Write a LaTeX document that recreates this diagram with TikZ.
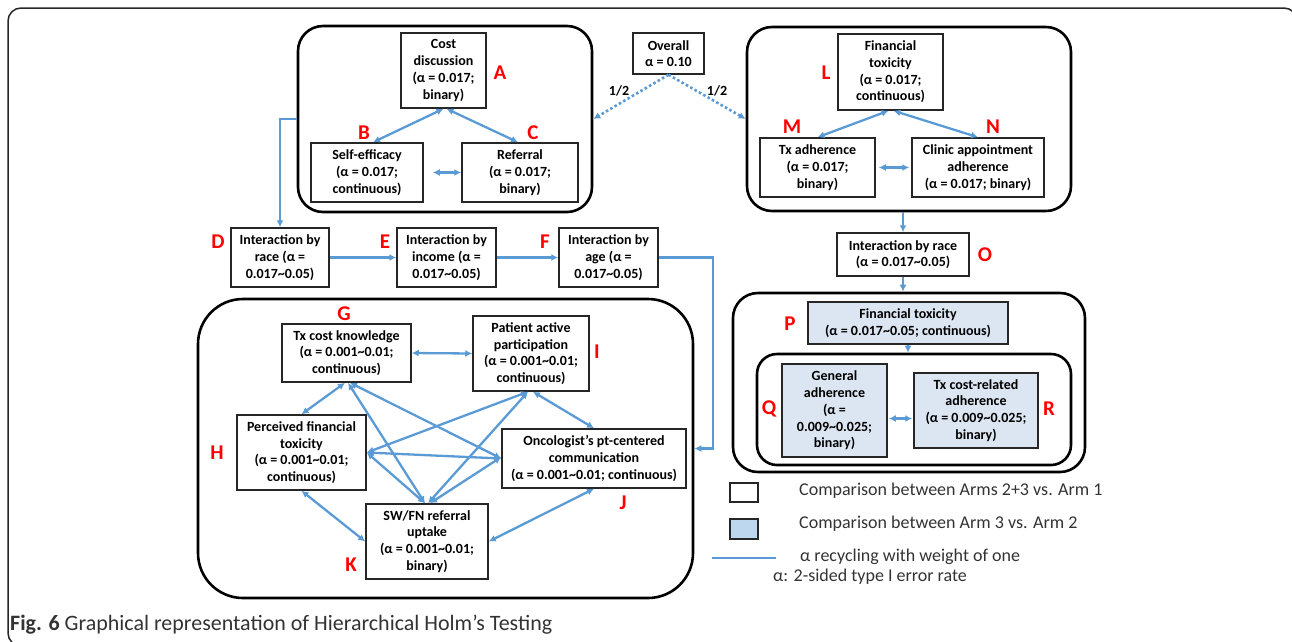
\documentclass[tikz,border=0pt]{standalone}
\usepackage{fontspec}
\setmainfont{Carlito}
\usetikzlibrary{arrows.meta,calc}
\definecolor{arrblue}{HTML}{5B9BD5}
\definecolor{boxblue}{HTML}{DCE6F2}
\definecolor{legblue}{HTML}{BDD7EE}
\definecolor{lblred}{HTML}{FF0000}
\definecolor{captxt}{HTML}{333333}
\newcommand{\tl}{\textasciitilde}
\begin{document}
\begin{tikzpicture}[x=1pt,y=-1pt,
  box/.style={draw=black!85, line width=1.5pt, fill=white, align=center, inner sep=1pt,
    font=\bfseries\fontsize{14}{16.7}\selectfont},
  bbox/.style={box, fill=boxblue},
  grp/.style={draw=black, line width=2.6pt, inner sep=0pt, rounded corners=#1},
  grp/.default=25pt,
  lbl/.style={text=lblred, font=\bfseries\fontsize{21}{24}\selectfont, inner sep=0pt},
  arr/.style={draw=arrblue, line width=2.3pt, {Latex[length=7pt,width=7pt]}-{Latex[length=7pt,width=7pt]}},
  sarr/.style={draw=arrblue, line width=2.3pt, -{Latex[length=7pt,width=7pt]}},
  darr/.style={draw=arrblue, line width=2.6pt, dash pattern=on 2.6pt off 2.4pt, -{Latex[length=7pt,width=7pt]}},
  legtxt/.style={anchor=west, inner sep=0pt, text=captxt, font=\fontsize{18}{21}\selectfont},
  wt/.style={font=\bfseries\fontsize{14}{16.7}\selectfont, inner sep=0pt}
]
\clip (0,0) rectangle (1292,641);
\useasboundingbox (0,0) rectangle (1292,641);
\draw[line width=1.5pt, rounded corners=13pt, draw=black!85] (8,8) rectangle (1297,646);

% groups
\node[grp, minimum width=294pt, minimum height=186pt] (gABC) at (445,119) {};
\node[grp, minimum width=324pt, minimum height=184pt] (gLMN) at (909,119) {};
\node[grp=45pt, minimum width=495pt, minimum height=299pt] (gGK) at (445.5,448.5) {};
\node[grp, minimum width=352pt, minimum height=179pt] (gPQR) at (909,382.5) {};
\node[grp=20pt, minimum width=314pt, minimum height=111pt] (gQR) at (914,409.5) {};

% boxes
\node[box, minimum width=85pt, minimum height=75pt] (A) at (443.5,70.5) {Cost\\discussion\\(α = 0.017;\\binary)};
\node[box, minimum width=112pt, minimum height=59pt] (B) at (367,172.5) {Self-efficacy\\(α = 0.017;\\continuous)};
\node[box, minimum width=116pt, minimum height=59pt] (C) at (520,172.5) {Referral\\(α = 0.017;\\binary)};
\node[box, minimum width=71pt, minimum height=41pt] (Ov) at (668.5,53.5) {Overall\\α = 0.10};
\node[box, minimum width=105pt, minimum height=76pt] (L) at (890.5,72) {Financial\\toxicity\\(α = 0.017;\\continuous)};
\node[box, minimum width=115pt, minimum height=59pt] (M) at (817.5,167.5) {Tx adherence\\(α = 0.017;\\binary)};
\node[box, minimum width=132pt, minimum height=59pt] (N) at (978,167.5) {Clinic appointment\\adherence\\(α = 0.017; binary)};
\node[box, minimum width=132pt, minimum height=43pt] (O) at (903,254.5) {Interaction by race\\(α = 0.017\tl0.05)};
\node[bbox, minimum width=200pt, minimum height=42pt] (P) at (908,323) {Financial toxicity\\(α = 0.017\tl0.05; continuous)};
\node[bbox, minimum width=105pt, minimum height=93pt] (Q) at (834.5,410.5) {General\\adherence\\(α =\\0.009\tl0.025;\\binary)};
\node[bbox, minimum width=124pt, minimum height=75pt] (R) at (976,410.5) {Tx cost-related\\adherence\\(α = 0.009\tl0.025;\\binary)};
\node[box, minimum width=98pt, minimum height=59pt] (D) at (280,257.5) {Interaction by\\race (α =\\0.017\tl0.05)};
\node[box, minimum width=99pt, minimum height=59pt] (E) at (446.5,257.5) {Interaction by\\income (α =\\0.017\tl0.05)};
\node[box, minimum width=99pt, minimum height=59pt] (F) at (608.5,257.5) {Interaction by\\age (α =\\0.017\tl0.05)};
\node[box, minimum width=129pt, minimum height=58pt] (G) at (346.5,353) {Tx cost knowledge\\(α = 0.001\tl0.01;\\continuous)};
\node[box, minimum width=116pt, minimum height=75pt] (I) at (531,353.5) {Patient active\\participation\\(α = 0.001\tl0.01;\\continuous)};
\node[box, minimum width=129pt, minimum height=75pt] (H) at (301.5,452.5) {Perceived financial\\toxicity\\(α = 0.001\tl0.01;\\continuous)};
\node[box, minimum width=184pt, minimum height=59pt] (J) at (594,458.5) {Oncologist’s pt-centered\\communication\\(α = 0.001\tl0.01; continuous)};
\node[box, minimum width=122pt, minimum height=75pt] (K) at (427,541.5) {SW/FN referral\\uptake\\(α = 0.001\tl0.01;\\binary)};

% red labels
\node[lbl] (lA) at (500,73) {A};
\node[lbl] (lB) at (364,133) {B};
\node[lbl] (lC) at (533,133) {C};
\node[lbl] (lL) at (826,73) {L};
\node[lbl] (lM) at (792,127) {M};
\node[lbl] (lN) at (993,127) {N};
\node[lbl] (lO) at (985,255) {O};
\node[lbl] (lP) at (790,324) {P};
\node[lbl] (lQ) at (769,409) {Q};
\node[lbl] (lR) at (1049,409) {R};
\node[lbl] (lD) at (218,242) {D};
\node[lbl] (lE) at (385,242) {E};
\node[lbl] (lF) at (545,242) {F};
\node[lbl] (lG) at (344,314) {G};
\node[lbl] (lH) at (217,453) {H};
\node[lbl] (lI) at (597,352) {I};
\node[lbl] (lJ) at (623,503) {J};
\node[lbl] (lK) at (351,565) {K};

% overall dotted arrows
\draw[darr] (Ov.south) -- (gABC.east);
\draw[darr] (Ov.south) -- (gLMN.west);
\node[wt] (h1) at (619,91) {1/2};
\node[wt] (h2) at (717,91) {1/2};

% ABC arrows
\draw[arr] (A.south) -- ([xshift=6pt]B.north);
\draw[arr] ([xshift=3pt]A.south) -- ([xshift=-2pt]C.north);
\draw[arr, shorten <=9pt] (B.east) -- (C.west);
% LMN arrows
\draw[arr] ([xshift=-2pt]L.south) -- (M.north);
\draw[arr] ([xshift=3pt]L.south) -- (N.north);
\draw[arr, shorten <=3pt, shorten >=2pt] (M.east) -- (N.west);
% chain
\draw[sarr] (gABC.west) -| (D.north);
\draw[sarr] (D.east) -- (E.west);
\draw[sarr] (E.east) -- (F.west);
\coordinate (fj) at (713,448.5);
\draw[sarr] (F.east) -| (fj) -- (gGK.east);
\draw[sarr] (O.north |- gLMN.south) -- (O.north);
\draw[sarr] (O.south) -- (O.south |- gPQR.north);
\draw[sarr] (P.south) -- (P.south |- gQR.north);
\draw[arr, shorten <=1pt, shorten >=1pt] ([yshift=-8pt]Q.east) -- ([yshift=-8pt]R.west);

% GHIJK arrows
\draw[arr] (G.east) -- (I.west);
\draw[arr] ([xshift=-1.5pt]G.south) -- (H.north);
\draw[arr] ([xshift=1.5pt]G.south) -- ([xshift=-2pt]K.north);
\draw[arr] ([xshift=3.5pt]G.south) -- (J.west);
\draw[arr] ([xshift=-3pt]I.south) -- (H.east);
\draw[arr] ([xshift=-3pt]I.south) -- ([xshift=1pt]K.north);
\draw[arr] ([xshift=2pt]I.south) -- (J.north);
\draw[arr] (H.east) -- (J.west);
\draw[arr] (H.east) -- ([xshift=-2pt]K.north);
\draw[arr] ([xshift=3pt]K.north) -- ([yshift=1.5pt]J.west);
\draw[arr] (H.south) -- (K.west);
\draw[arr] (K.east) -- (J.south);

% legend
\node[draw=black!85, line width=1.5pt, fill=white, minimum width=28pt, minimum height=19pt, inner sep=0pt] (lg1) at (744,492.5) {};
\node[draw=black!85, line width=1.5pt, fill=legblue, minimum width=28pt, minimum height=20pt, inner sep=0pt] (lg2) at (744,529) {};
\coordinate (la) at (712,558);
\coordinate (lb) at (776,558);
\draw[draw=arrblue, line width=2.3pt] (la) -- (lb);
\node[legtxt] (t1) at (799,491) {Comparison between Arms 2+3 vs. Arm 1};
\node[legtxt] (t2) at (799,524) {Comparison between Arm 3 vs. Arm 2};
\node[legtxt] (t3) at (800,557) {α recycling with weight of one};
\node[legtxt] (t4) at (773,577) {α: 2-sided type I error rate};

% caption
\node[anchor=west, inner sep=0pt, text=captxt] (cap) at (10,625) {\resizebox{542pt}{!}{\fontsize{19}{22}\selectfont\textbf{Fig. 6} Graphical representation of Hierarchical Holm’s Testing}};
\end{tikzpicture}
\end{document}
